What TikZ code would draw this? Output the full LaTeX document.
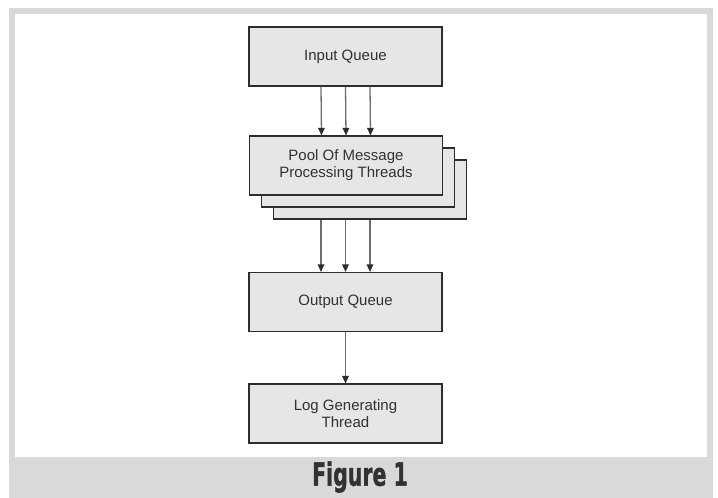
\documentclass[tikz,border=0pt]{standalone}
\usepackage{fontspec}
\usepackage{tikz}
\usetikzlibrary{arrows.meta,positioning,calc}
\newfontfamily\boxfont{Liberation Sans}
\newfontfamily\capfont{DejaVu Sans}[BoldFeatures={FakeBold=1.6}]
\definecolor{frameGray}{RGB}{217,217,217}
\definecolor{boxFill}{RGB}{230,230,230}
\definecolor{boxEdge}{RGB}{45,45,45}
\definecolor{flowGray}{RGB}{110,110,110}
\definecolor{txtGray}{RGB}{50,50,50}
\tikzset{
  queuebox/.style={draw=boxEdge, line width=1.1pt, fill=boxFill, text=txtGray,
    minimum width=193pt, minimum height=59pt, inner sep=0pt, align=center,
    font=\boxfont\fontsize{15}{17}\selectfont},
  flow/.style={draw=flowGray, line width=1.3pt,
    -{Triangle[length=7.5pt,width=6.5pt,color=boxEdge,fill=boxEdge]}}
}

\begin{document}
\begin{tikzpicture}[x=1pt,y=-1pt]
  \useasboundingbox (0,0) rectangle (718,498);
  % frame
  \fill[frameGray] (9,8) rectangle (713,498);
  \fill[white] (15,14) rectangle (707,457);

  \node[queuebox] (in) at (345.5,56.5) {Input Queue};
  \foreach \k in {2,1} {
    \node[queuebox] (pool\k) at (346+12*\k,165.5+12*\k) {};
  }
  \node[queuebox] (pool) at (346,165.5) {Pool Of Message\\Processing Threads};
  \node[queuebox] (out) at (345.5,302) {Output Queue};
  \node[queuebox] (log) at (345.5,413.5) {Log Generating\\Thread};

  \foreach \dx in {-24.5,0,24.5} {
    \draw[flow] ([xshift=\dx]in.south) -- ([xshift=\dx]pool.north);
    \draw[flow] ([xshift=\dx]out.north |- pool2.south) -- ([xshift=\dx]out.north);
  }
  \draw[flow] (out) -- (log);

  \node[text=txtGray, font=\capfont\bfseries\fontsize{32}{32}\selectfont] (cap) at (360,477)
    {\scalebox{0.64}[1]{Figure 1}};
\end{tikzpicture}
\end{document}
